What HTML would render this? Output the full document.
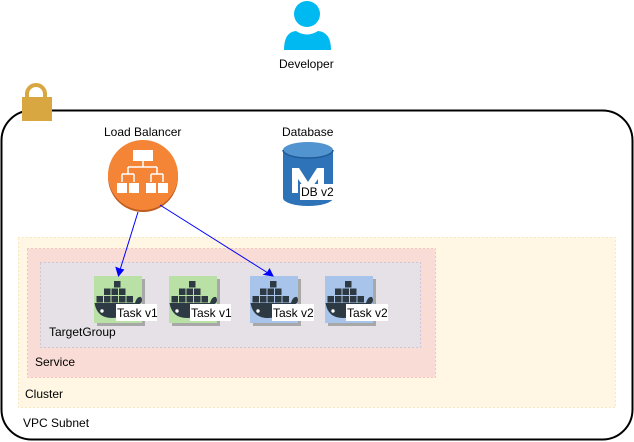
<!DOCTYPE html>
<html><head><meta charset="utf-8"><style>
html,body{margin:0;padding:0;background:#fff;}
svg{display:block;}
text{font-family:"Liberation Sans",Arial,sans-serif;font-size:12px;fill:#000;}
</style></head><body>
<svg width="634" height="442" viewBox="0 0 634 442" xmlns="http://www.w3.org/2000/svg">
<defs>
<g id="whale">
 <rect x="20" y="5" width="6.5" height="6.5" fill="#2d3a44"/>
 <rect x="10" y="12.5" width="6.5" height="6.5" fill="#2d3a44"/>
 <rect x="17.5" y="12.5" width="6.5" height="6.5" fill="#2d3a44"/>
 <rect x="25" y="12.5" width="6.5" height="6.5" fill="#2d3a44"/>
 <rect x="2.5" y="20" width="6.5" height="6.5" fill="#2d3a44"/>
 <rect x="10" y="20" width="6.5" height="6.5" fill="#2d3a44"/>
 <rect x="17.5" y="20" width="6.5" height="6.5" fill="#2d3a44"/>
 <rect x="25" y="20" width="6.5" height="6.5" fill="#2d3a44"/>
 <rect x="32.5" y="20" width="6.5" height="6.5" fill="#2d3a44"/>
 <path d="M0.5,27 L41,27 Q43,20 47,21 Q49,24 47,27 Q45,28.5 43,29 Q38,42 18,42 Q3,42 0.5,27 Z" fill="#2d3a44"/>
 <circle cx="8" cy="35" r="1.7" fill="#fff"/>
</g>
</defs>
<rect x="1.5" y="110.5" width="631" height="329" rx="30" fill="#fff" stroke="#000" stroke-width="2"/>
<path d="M27,98 V94 a9,9 0 0 1 18,0 V98" fill="none" stroke="#d9a741" stroke-width="4"/>
<rect x="22" y="97" width="30" height="24" fill="#d9a741"/>
<rect x="18.5" y="237.5" width="597" height="170" fill="#fff7e3" stroke="#f0d58c" stroke-dasharray="1 3"/>
<rect x="27.5" y="248.5" width="408" height="129" fill="#fadcd6" stroke="#e8a0a0" stroke-dasharray="1 3"/>
<rect x="40.5" y="262.5" width="380" height="85" fill="#e6e1e6" stroke="#9fb0d8" stroke-dasharray="1 3"/>
<text x="49" y="336">TargetGroup</text>
<text x="35" y="366">Service</text>
<text x="25" y="398">Cluster</text>
<text x="23" y="427">VPC Subnet</text>
<g>
 <rect x="97" y="279" width="48" height="47" fill="#a8a8a8"/>
 <rect x="94" y="276" width="48" height="47" fill="#b9e0a5"/>
 <use href="#whale" x="94" y="276"/>
 <rect x="116" y="304" width="41" height="17" fill="#fff"/>
 <text x="117" y="317">Task v1</text>
</g>
<g>
 <rect x="172" y="279" width="48" height="47" fill="#a8a8a8"/>
 <rect x="169" y="276" width="48" height="47" fill="#b9e0a5"/>
 <use href="#whale" x="169" y="276"/>
 <rect x="190" y="304" width="41" height="17" fill="#fff"/>
 <text x="191" y="317">Task v1</text>
</g>
<g>
 <rect x="253" y="279" width="48" height="47" fill="#a8a8a8"/>
 <rect x="250" y="276" width="48" height="47" fill="#a9c4eb"/>
 <use href="#whale" x="250" y="276"/>
 <rect x="272" y="304" width="42" height="17" fill="#fff"/>
 <text x="273" y="317">Task v2</text>
</g>
<g>
 <rect x="328" y="279" width="48" height="47" fill="#a8a8a8"/>
 <rect x="325" y="276" width="48" height="47" fill="#a9c4eb"/>
 <use href="#whale" x="325" y="276"/>
 <rect x="346" y="304" width="42" height="17" fill="#fff"/>
 <text x="347" y="317">Task v2</text>
</g>
<circle cx="307" cy="14" r="13" fill="#00b9f1"/>
<path d="M284,50 Q284,32 296,31 Q307,38 318,31 Q331,32 331,50 Z" fill="#00b9f1"/>
<text x="279" y="68">Developer</text>
<text x="104" y="136">Load Balancer</text>
<circle cx="143" cy="177" r="35" fill="#c05c20"/>
<circle cx="143" cy="175" r="35" fill="#f58536"/>
<g fill="#fff" stroke="#fff">
 <rect x="133" y="150" width="20" height="11" stroke="none"/>
 <path d="M143,161 V167 M128,167 H157 M128,167 V174 M157,167 V174 M122,174 H134 M151,174 H163 M122,174 V182 M134,174 V182 M151,174 V182 M163,174 V182" fill="none" stroke-width="1.5"/>
 <rect x="117" y="183" width="10" height="10" stroke="none"/>
 <rect x="129" y="183" width="10" height="10" stroke="none"/>
 <rect x="146" y="183" width="10" height="10" stroke="none"/>
 <rect x="158" y="183" width="10" height="10" stroke="none"/>
</g>
<text x="282" y="136">Database</text>
<path d="M283,150 V198 A25,8 0 0 0 333,198 V150 Z" fill="#2e73b8"/>
<ellipse cx="308" cy="150" rx="25" ry="8" fill="#5294cf"/>
<path d="M283,150 A25,8 0 0 0 333,150" fill="none" stroke="#205b99" stroke-width="1.5"/>
<path d="M292,193 V168 H299 L308,182 L317,168 H324 V193 H318 V179 L308,193 L298,179 V193 Z" fill="#fff"/>
<rect x="300" y="184" width="33" height="16" fill="#fff"/>
<text x="301" y="196">DB v2</text>
<g stroke="#0000ff" stroke-width="1" fill="#0000ff">
 <line x1="138" y1="212" x2="120" y2="270"/>
 <path d="M118.5,276 L116,267.5 L120,269 L123.5,269.8 Z"/>
 <line x1="160" y1="205" x2="268" y2="273"/>
 <path d="M273,276 L264,274.5 L267.5,272.5 L269.5,269 Z"/>
</g>
</svg>
</body></html>
